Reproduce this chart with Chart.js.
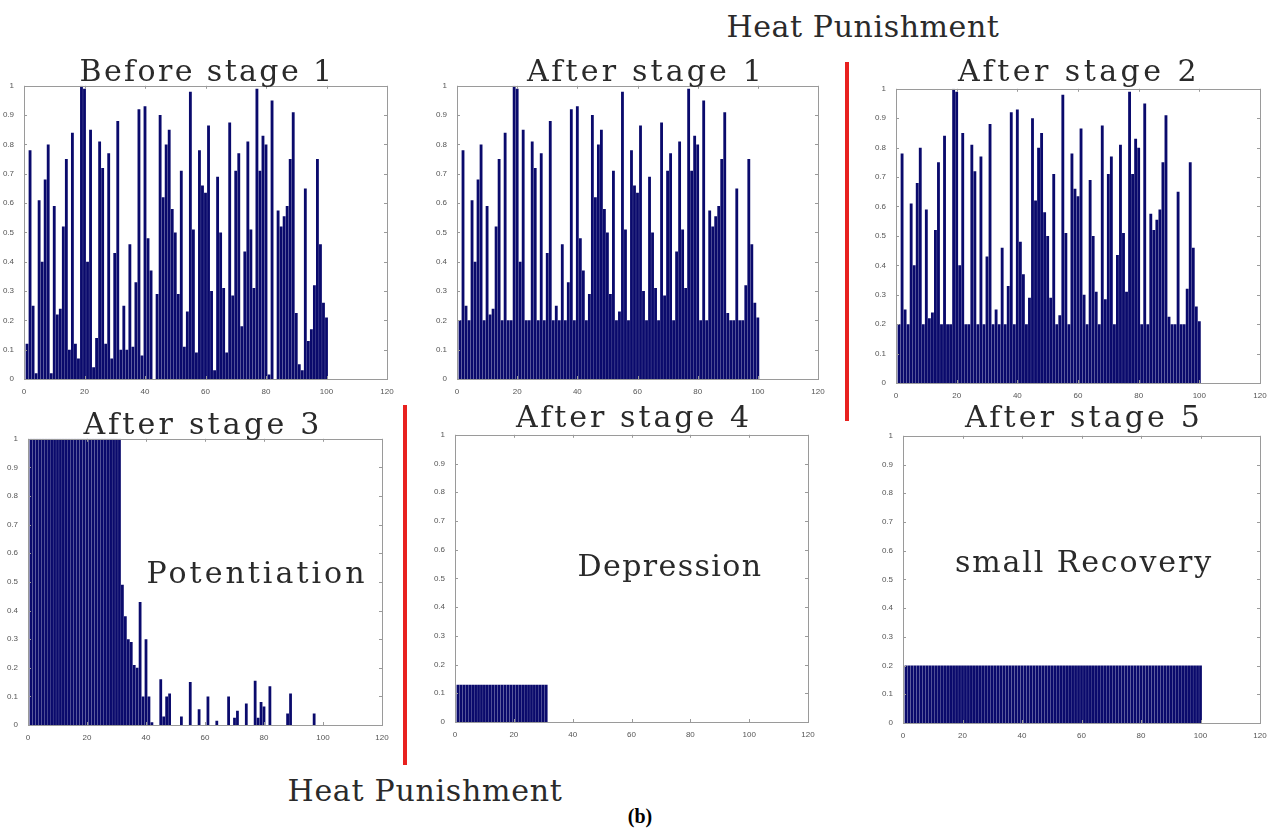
<!DOCTYPE html>
<html><head><meta charset="utf-8">
<script src="https://cdn.jsdelivr.net/npm/chart.js@4.4.0/dist/chart.umd.min.js"></script>
<style>
body{margin:0;background:#fff;width:1279px;height:834px;position:relative;overflow:hidden;}
canvas{position:absolute;}
.t{position:absolute;font-family:"DejaVu Serif",serif;font-size:30px;color:#2a2a2a;white-space:nowrap;line-height:1;transform:translate(-50%,-50%);z-index:5;}
.b{position:absolute;font-family:"Liberation Serif",serif;font-weight:bold;font-size:20px;color:#000;line-height:1;transform:translate(-50%,-50%);z-index:5;}
.red{position:absolute;background:#e8211f;width:4px;z-index:6;}
</style></head><body>
<canvas id="c1"></canvas><canvas id="c2"></canvas><canvas id="c3"></canvas>
<canvas id="c4"></canvas><canvas id="c5"></canvas><canvas id="c6"></canvas>
<div class="t" data-w="273" style="left:863px;top:27px;">Heat Punishment</div>
<div class="t" data-w="255" style="left:207px;top:71px;">Before stage 1</div>
<div class="t" data-w="238" style="left:646px;top:71px;">After stage 1</div>
<div class="t" data-w="242" style="left:1079px;top:71px;">After stage 2</div>
<div class="t" data-w="239" style="left:203px;top:424px;">After stage 3</div>
<div class="t" data-w="236" style="left:634px;top:417px;">After stage 4</div>
<div class="t" data-w="238" style="left:1084px;top:417px;">After stage 5</div>
<div class="t" data-w="221" style="left:257px;top:573px;">Potentiation</div>
<div class="t" data-w="185" style="left:670px;top:566px;">Depression</div>
<div class="t" data-w="258" style="left:1084px;top:562px;">small Recovery</div>
<div class="t" data-w="275" style="left:425px;top:791px;">Heat Punishment</div>
<div class="b" style="left:640px;top:816px;">(b)</div>
<div class="red" style="left:845px;top:62px;height:359px;"></div>
<div class="red" style="left:403px;top:405px;height:360px;"></div>
<script>
// ---- data ----
const neuronIds = Array.from({length:100},(_,i)=>i+1);
const xTicks = [0,20,40,60,80,100,120];
const yTicks = [0,0.1,0.2,0.3,0.4,0.5,0.6,0.7,0.8,0.9,1];
const yTickLabels = ['0','0.1','0.2','0.3','0.4','0.5','0.6','0.7','0.8','0.9','1'];

const beforeStage1 = [0.12,0.78,0.25,0.02,0.61,0.40,0.68,0.80,0.02,0.59,
0.22,0.24,0.52,0.75,0.10,0.84,0.12,0.07,1.00,0.99,
0.40,0.85,0.04,0.14,0.81,0.72,0.12,0.77,0.07,0.43,
0.88,0.10,0.25,0.10,0.46,0.11,0.33,0.92,0.08,0.93,
0.48,0.37,0.00,0.29,0.90,0.62,0.80,0.85,0.58,0.50,
0.29,0.71,0.11,0.23,0.98,0.51,0.09,0.78,0.66,0.635,
0.865,0.30,0.03,0.69,0.50,0.31,0.09,0.875,0.285,0.71,
0.77,0.18,0.435,0.81,0.51,0.31,0.99,0.71,0.83,0.80,
0.015,0.95,0.00,0.575,0.52,0.555,0.59,0.75,0.91,0.225,
0.05,0.03,0.65,0.13,0.17,0.32,0.75,0.46,0.26,0.21];

const afterStage1 = [0.20,0.78,0.25,0.20,0.61,0.40,0.68,0.80,0.20,0.59,
0.22,0.24,0.52,0.75,0.20,0.84,0.20,0.20,1.00,0.99,
0.40,0.85,0.20,0.20,0.81,0.72,0.20,0.77,0.20,0.43,
0.88,0.20,0.25,0.20,0.46,0.20,0.33,0.92,0.20,0.93,
0.48,0.37,0.20,0.29,0.90,0.62,0.80,0.85,0.58,0.50,
0.29,0.71,0.20,0.23,0.98,0.51,0.20,0.78,0.66,0.635,
0.865,0.30,0.20,0.69,0.50,0.31,0.20,0.875,0.285,0.71,
0.77,0.20,0.435,0.81,0.51,0.31,0.99,0.71,0.83,0.80,
0.20,0.95,0.20,0.575,0.52,0.555,0.59,0.75,0.91,0.225,
0.20,0.20,0.65,0.20,0.20,0.32,0.75,0.46,0.26,0.21];

const afterStage2 = [0.20,0.78,0.25,0.20,0.61,0.40,0.68,0.80,0.20,0.59,
0.22,0.24,0.52,0.75,0.20,0.84,0.20,0.20,1.00,0.99,
0.40,0.85,0.20,0.20,0.81,0.72,0.20,0.77,0.20,0.43,
0.88,0.20,0.25,0.20,0.46,0.20,0.33,0.92,0.20,0.93,
0.48,0.37,0.20,0.29,0.90,0.62,0.80,0.85,0.58,0.50,
0.29,0.71,0.20,0.23,0.98,0.51,0.20,0.78,0.66,0.635,
0.865,0.30,0.20,0.69,0.50,0.31,0.20,0.875,0.285,0.71,
0.77,0.20,0.435,0.81,0.51,0.31,0.99,0.71,0.83,0.80,
0.20,0.95,0.20,0.575,0.52,0.555,0.59,0.75,0.91,0.225,
0.20,0.20,0.65,0.20,0.20,0.32,0.75,0.46,0.26,0.21];

const afterStage3 = [1,1,1,1,1,1,1,1,1,1,
1,1,1,1,1,1,1,1,1,1,
1,1,1,1,1,1,1,1,1,1,
1,0.49,0.38,0.30,0.29,0.21,0.20,0.43,0.10,0.30,
0.10,0.01,0,0,0.16,0.03,0.10,0.11,0,0,
0,0.03,0,0,0.15,0,0,0.055,0,0,
0.10,0,0,0.015,0,0,0,0.10,0,0.025,
0.05,0,0,0.075,0,0,0.155,0.025,0.08,0.065,
0,0.135,0,0,0,0,0,0.04,0.11,0,
0,0,0,0,0,0,0.04,0,0,0];

const afterStage4 = [0.13,0.13,0.13,0.13,0.13,0.13,0.13,0.13,0.13,0.13,
0.13,0.13,0.13,0.13,0.13,0.13,0.13,0.13,0.13,0.13,
0.13,0.13,0.13,0.13,0.13,0.13,0.13,0.13,0.13,0.13,
0.13,0,0,0,0,0,0,0,0,0,
0,0,0,0,0,0,0,0,0,0,
0,0,0,0,0,0,0,0,0,0,
0,0,0,0,0,0,0,0,0,0,
0,0,0,0,0,0,0,0,0,0,
0,0,0,0,0,0,0,0,0,0,
0,0,0,0,0,0,0,0,0,0];

const afterStage5 = [0.2,0.2,0.2,0.2,0.2,0.2,0.2,0.2,0.2,0.2,
0.2,0.2,0.2,0.2,0.2,0.2,0.2,0.2,0.2,0.2,
0.2,0.2,0.2,0.2,0.2,0.2,0.2,0.2,0.2,0.2,
0.2,0.2,0.2,0.2,0.2,0.2,0.2,0.2,0.2,0.2,
0.2,0.2,0.2,0.2,0.2,0.2,0.2,0.2,0.2,0.2,
0.2,0.2,0.2,0.2,0.2,0.2,0.2,0.2,0.2,0.2,
0.2,0.2,0.2,0.2,0.2,0.2,0.2,0.2,0.2,0.2,
0.2,0.2,0.2,0.2,0.2,0.2,0.2,0.2,0.2,0.2,
0.2,0.2,0.2,0.2,0.2,0.2,0.2,0.2,0.2,0.2,
0.2,0.2,0.2,0.2,0.2,0.2,0.2,0.2,0.2,0.2];

// ---- text width fitting (serif text spaced like the original monospace) ----
document.querySelectorAll('.t').forEach(el=>{
  const target = +el.dataset.w;
  const n = el.textContent.length;
  const nat = el.getBoundingClientRect().width;
  el.style.letterSpacing = ((target - nat) / n) + 'px';
});

// ---- layout ----
const framePlugin = {
  id:'frame',
  afterDraw(chart){
    const {ctx, chartArea:a, scales:{x, y}} = chart;
    ctx.save();
    ctx.strokeStyle = '#9a9a9a';
    ctx.lineWidth = 1;
    ctx.strokeRect(Math.round(a.left)+0.5, Math.round(a.top)+0.5, Math.round(a.right-a.left), Math.round(a.bottom-a.top));
    ctx.beginPath();
    xTicks.forEach(v=>{
      const px = Math.round(x.getPixelForValue(v))+0.5;
      ctx.moveTo(px, a.bottom); ctx.lineTo(px, a.bottom-3);
      ctx.moveTo(px, a.top); ctx.lineTo(px, a.top+3);
    });
    yTicks.forEach(v=>{
      const py = Math.round(y.getPixelForValue(v))+0.5;
      ctx.moveTo(a.left, py); ctx.lineTo(a.left+3, py);
      ctx.moveTo(a.right, py); ctx.lineTo(a.right-3, py);
    });
    ctx.stroke();
    ctx.restore();
  }
};

function makePanel(id, values, r){
  const L=24, T=6, R=12, B=15;
  const cv = document.getElementById(id);
  const W = r.r - r.l + L + R, H = r.b - r.t + T + B;
  cv.width = W; cv.height = H;
  cv.style.left = (r.l - L) + 'px';
  cv.style.top = (r.t - T) + 'px';
  cv.style.width = W + 'px'; cv.style.height = H + 'px';
  new Chart(cv.getContext('2d'), {
    type:'bar',
    data:{datasets:[{
      data: neuronIds.map((x,i)=>({x:x, y:values[i]})),
      backgroundColor:'#0a0a6c',
      borderWidth:0,
      barPercentage:0.94,
      categoryPercentage:1
    }]},
    options:{
      responsive:false, animation:false, devicePixelRatio:1,
      layout:{padding:{top:T, right:R, left:0, bottom:0}},
      plugins:{legend:{display:false}, tooltip:{enabled:false}},
      scales:{
        x:{type:'linear', min:0, max:120, offset:false,
           afterBuildTicks(s){ s.ticks = xTicks.map(v=>({value:v})); },
           ticks:{font:{size:8, family:'Liberation Sans'}, color:'#555', padding:0, maxRotation:0, autoSkip:false,
                  callback:(v)=>String(v)},
           grid:{display:false}, border:{display:false},
           afterFit(s){ s.height = B; }},
        y:{min:0, max:1,
           afterBuildTicks(s){ s.ticks = yTicks.map(v=>({value:v})); },
           ticks:{font:{size:8, family:'Liberation Sans'}, color:'#555', padding:2, autoSkip:false,
                  callback:(v, i)=>yTickLabels[i]},
           grid:{display:false}, border:{display:false},
           afterFit(s){ s.width = L; }}
      }
    },
    plugins:[framePlugin]
  });
}

makePanel('c1', beforeStage1, {l:24, t:85, r:387, b:379});
makePanel('c2', afterStage1, {l:457, t:85, r:818, b:379});
makePanel('c3', afterStage2, {l:896, t:88, r:1260, b:383});
makePanel('c4', afterStage3, {l:28, t:438, r:382, b:725});
makePanel('c5', afterStage4, {l:455, t:434, r:808, b:722});
makePanel('c6', afterStage5, {l:903, t:435, r:1260, b:723});
</script>
</body></html>
